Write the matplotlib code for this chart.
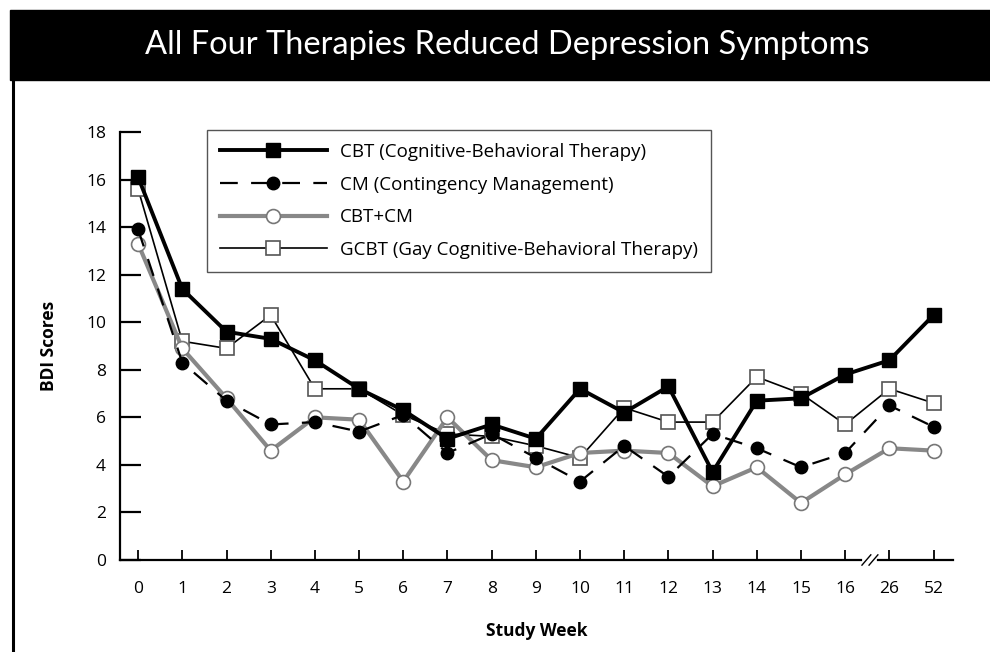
import matplotlib.pyplot as plt
import matplotlib.patches as mpatches
import matplotlib.lines as mlines
import matplotlib.transforms as mtransforms

plt.rcParams['font.family'] = ['Open Sans', 'DejaVu Sans']

# Data
weeks = ['0', '1', '2', '3', '4', '5', '6', '7', '8', '9', '10', '11', '12', '13', '14', '15', '16', '26', '52']
cbt = [16.1, 11.4, 9.6, 9.3, 8.4, 7.2, 6.3, 5.1, 5.7, 5.1, 7.2, 6.2, 7.3, 3.7, 6.7, 6.8, 7.8, 8.4, 10.3]
cm = [13.9, 8.3, 6.7, 5.7, 5.8, 5.4, 6.1, 4.5, 5.3, 4.3, 3.3, 4.8, 3.5, 5.3, 4.7, 3.9, 4.5, 6.5, 5.6]
cbt_cm = [13.3, 8.9, 6.8, 4.6, 6.0, 5.9, 3.3, 6.0, 4.2, 3.9, 4.5, 4.6, 4.5, 3.1, 3.9, 2.4, 3.6, 4.7, 4.6]
gcbt = [15.6, 9.2, 8.9, 10.3, 7.2, 7.2, 6.1, 5.3, 5.2, 4.8, 4.3, 6.4, 5.8, 5.8, 7.7, 7.0, 5.7, 7.2, 6.6]
labels = ['CBT (Cognitive-Behavioral Therapy)', 'CM (Contingency Management)',
          'CBT+CM', 'GCBT (Gay Cognitive-Behavioral Therapy)']

x = list(range(len(weeks)))

fig = plt.figure(figsize=(9.9, 6.52), dpi=100)
ax = fig.add_axes([120 / 990, 1 - 560 / 652, 833 / 990, 428 / 652])

# Title bar and left border
fig.patches.append(mpatches.Rectangle((10 / 990, 1 - 80 / 652), 1, 70 / 652,
                                      transform=fig.transFigure, color='black', zorder=0))
fig.lines.append(mlines.Line2D([13 / 990, 13 / 990], [0, 1 - 80 / 652],
                               transform=fig.transFigure, color='black', lw=2.2))
fig.text(507 / 990, 1 - 45 / 652, 'All Four Therapies Reduced Depression Symptoms',
         color='white', fontsize=23.5, ha='center', va='center',
         family=['Lato', 'DejaVu Sans'])

# Series
l4, = ax.plot(x, gcbt, color='black', lw=1.2, marker='s', ms=10,
              mfc='white', mec='#555555', mew=1.2, zorder=3)
l3, = ax.plot(x, cbt_cm, color='#888888', lw=3, marker='o', ms=10,
              mfc='white', mec='#777777', mew=1.2, zorder=4)
l2, = ax.plot(x, cm, color='black', lw=1.6, dashes=(8, 6), marker='o', ms=9,
              mfc='black', mec='black', zorder=5)
l1, = ax.plot(x, cbt, color='black', lw=2.8, marker='s', ms=10.5,
              mfc='black', mec='black', zorder=6)

ax.set_ylim(0, 18)
ax.set_xlim(-0.41, 18.44)
ax.set_yticks(range(0, 19, 2))
ax.set_xticks(x)
ax.set_xticklabels(weeks)

for s in ['top', 'right', 'bottom']:
    ax.spines[s].set_visible(False)
ax.spines['left'].set_linewidth(1.6)
ax.tick_params(axis='y', direction='in', length=15, width=1.6, pad=10, labelsize=12.5)
ax.tick_params(axis='x', direction='in', length=7, width=1.3, pad=15, labelsize=12.5)

# Broken x axis line
trans = mtransforms.blended_transform_factory(ax.transData, ax.transAxes)
ax.plot([-0.41, 16.35], [0, 0], color='black', lw=1.6, transform=trans, clip_on=False)
ax.plot([16.75, 18.44], [0, 0], color='black', lw=1.6, transform=trans, clip_on=False)
for dx in (0, 0.16):
    ax.plot([16.38 + dx, 16.58 + dx], [-0.012, 0.012], color='black', lw=1,
            transform=trans, clip_on=False)

ax.set_ylabel('BDI Scores', fontsize=12.5, fontweight='bold', labelpad=20)
ax.set_xlabel('Study Week', fontsize=12.5, fontweight='bold', labelpad=18)

leg = ax.legend([l1, l2, l3, l4], labels, loc='upper left', bbox_to_anchor=(0.104, 1.005),
                borderaxespad=0, fontsize=13.5, handlelength=5.7, handletextpad=0.7,
                numpoints=1, fancybox=False, edgecolor='#555555', framealpha=1,
                labelspacing=0.78, borderpad=0.7)
leg.get_frame().set_linewidth(1.0)

plt.savefig('out.png', dpi=100)
